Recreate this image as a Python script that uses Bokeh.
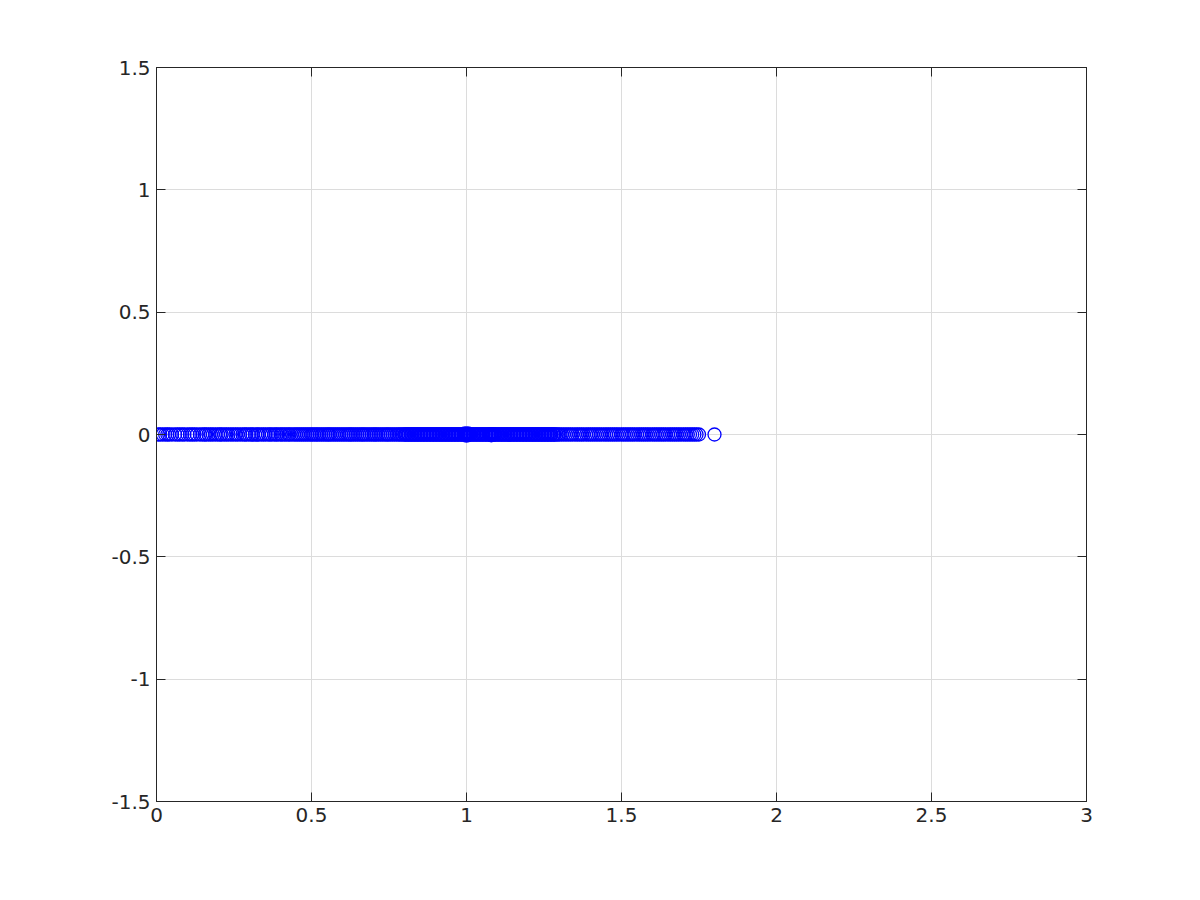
from bokeh.plotting import figure
from bokeh.models import LinearAxis, FixedTicker, Range1d
from bokeh.embed import file_html
from bokeh.resources import INLINE

x_left = [
    0.005, 0.012, 0.02, 0.028, 0.035, 0.041, 0.05, 0.06, 0.068, 0.075, 0.083,
    0.09, 0.1, 0.108, 0.115, 0.122, 0.13, 0.14, 0.148, 0.155, 0.16, 0.168,
    0.175, 0.182, 0.19, 0.198, 0.205, 0.21, 0.218, 0.225, 0.232, 0.24, 0.247,
    0.255, 0.262, 0.27, 0.278, 0.285, 0.29, 0.298, 0.305, 0.31, 0.318, 0.325,
    0.33, 0.338, 0.345, 0.352, 0.36, 0.366, 0.372, 0.38, 0.386, 0.392, 0.4,
    0.405, 0.412, 0.418, 0.425, 0.43, 0.437, 0.444, 0.45, 0.456, 0.462, 0.468,
    0.474, 0.48, 0.486, 0.492, 0.498, 0.503, 0.509, 0.515, 0.52, 0.526, 0.532,
    0.538, 0.544, 0.55, 0.555, 0.56, 0.566, 0.572, 0.578, 0.584, 0.59, 0.596,
    0.602, 0.608, 0.614, 0.62, 0.625, 0.63, 0.636, 0.642, 0.648, 0.654, 0.66,
    0.665, 0.67, 0.676, 0.682, 0.688, 0.694, 0.7, 0.705, 0.71, 0.716, 0.722,
    0.728, 0.734, 0.74, 0.745, 0.75, 0.756, 0.762, 0.768, 0.774, 0.78, 0.785,
    0.79, 0.795,
]
x_dense = [
    0.80, 0.805, 0.81, 0.815, 0.82, 0.825, 0.83, 0.835, 0.84, 0.845, 0.85,
    0.855, 0.86, 0.865, 0.87, 0.875, 0.88, 0.885, 0.89, 0.895, 0.90, 0.905,
    0.91, 0.915, 0.92, 0.925, 0.93, 0.935, 0.94, 0.945, 0.95, 0.955, 0.96,
    0.965, 0.97, 0.975, 0.98, 0.985, 0.99, 0.995, 1.00, 1.00, 1.00, 1.005,
    1.01, 1.015, 1.02, 1.025, 1.03, 1.035, 1.04, 1.045, 1.05, 1.055, 1.06,
    1.065, 1.07, 1.075, 1.08, 1.08, 1.085, 1.09, 1.095, 1.10, 1.105, 1.11,
    1.115, 1.12, 1.125, 1.13, 1.135, 1.14, 1.145, 1.15, 1.155, 1.16, 1.165,
    1.17, 1.175, 1.18, 1.185, 1.19, 1.195, 1.20, 1.205, 1.21, 1.215, 1.22,
    1.225, 1.23, 1.235, 1.24, 1.245, 1.25, 1.255, 1.26, 1.265, 1.27, 1.275,
    1.28, 1.285, 1.29, 1.295,
]
x_dense_b = [
    0.8025, 0.8125, 0.8225, 0.8325, 0.8425, 0.8525, 0.8625, 0.8725, 0.8825,
    0.8925, 0.9025, 0.9125, 0.9225, 0.9325, 0.9425, 0.9525, 0.9625, 0.9725,
    0.9825, 0.9925, 0.9975, 1.0025, 1.0075, 1.0125, 1.0225, 1.0325, 1.0425,
    1.0525, 1.0625, 1.0725, 1.0775, 1.0825, 1.0875, 1.0925, 1.1025, 1.1125,
    1.1225, 1.1325, 1.1425, 1.1525, 1.1625, 1.1725, 1.1825, 1.1925, 1.2025,
    1.2125, 1.2225, 1.2325, 1.2425, 1.2525, 1.2625, 1.2725, 1.2825,
]
x_right = [
    1.30, 1.307, 1.314, 1.321, 1.328, 1.335, 1.342, 1.35, 1.357, 1.364, 1.371,
    1.378, 1.386, 1.393, 1.40, 1.407, 1.414, 1.421, 1.428, 1.435, 1.443, 1.45,
    1.457, 1.464, 1.471, 1.478, 1.485, 1.492, 1.50, 1.507, 1.514, 1.521,
    1.528, 1.535, 1.542, 1.55, 1.557, 1.564, 1.571, 1.578, 1.585, 1.592, 1.60,
    1.607, 1.614, 1.621, 1.628, 1.635, 1.642, 1.65, 1.657, 1.664, 1.671,
    1.678, 1.685, 1.692, 1.70, 1.707, 1.714, 1.721, 1.728, 1.735, 1.742,
    1.75, 1.80,
]
# points in the bulge near 1 sit a hair off the axis
x_bulge = [0.995, 1.0, 1.005, 1.08]
y_bulge = [0.005, -0.005, 0.004, -0.003]

x_values = x_left + x_dense + x_dense_b + x_right + x_bulge
y_values = [0.0] * (len(x_left) + len(x_dense) + len(x_dense_b) + len(x_right)) + y_bulge

x_ticks = [0, 0.5, 1, 1.5, 2, 2.5, 3]
y_ticks = [-1.5, -1, -0.5, 0, 0.5, 1, 1.5]
x_labels = {0: "0", 0.5: "0.5", 1: "1", 1.5: "1.5", 2: "2", 2.5: "2.5", 3: "3"}
y_labels = {-1.5: "-1.5", -1: "-1", -0.5: "-0.5", 0: "0", 0.5: "0.5", 1: "1", 1.5: "1.5"}

p = figure(width=1200, height=900, output_backend="svg", toolbar_location=None,
           x_range=Range1d(0, 3), y_range=Range1d(-1.5, 1.5),
           min_border_left=156, min_border_right=114, min_border_top=67,
           min_border_bottom=99, x_axis_location=None, y_axis_location=None)
p.outline_line_color = "#262626"
p.outline_line_width = 1
p.background_fill_color = "white"
p.border_fill_color = "white"

def style_axis(ax, ticks, labels, show_labels):
    ax.ticker = FixedTicker(ticks=ticks)
    ax.major_tick_in = 9
    ax.major_tick_out = 0
    ax.minor_tick_in = 0
    ax.minor_tick_out = 0
    ax.axis_line_color = "#262626"
    ax.major_tick_line_color = "#262626"
    ax.major_label_text_font = "DejaVu Sans"
    ax.major_label_text_font_size = "20px"
    ax.major_label_text_color = "#262626"
    ax.major_label_standoff = 6
    if show_labels:
        ax.major_label_overrides = labels
    else:
        ax.major_label_overrides = {t: "" for t in ticks}

bx = LinearAxis(); style_axis(bx, x_ticks, x_labels, True); p.add_layout(bx, "below")
lx = LinearAxis(); style_axis(lx, y_ticks, y_labels, True); p.add_layout(lx, "left")
tx = LinearAxis(); style_axis(tx, x_ticks, x_labels, False); p.add_layout(tx, "above")
rx = LinearAxis(); style_axis(rx, y_ticks, y_labels, False); p.add_layout(rx, "right")

p.xgrid.ticker = FixedTicker(ticks=x_ticks)
p.ygrid.ticker = FixedTicker(ticks=y_ticks)
p.xgrid.grid_line_color = "#dcdcdc"
p.ygrid.grid_line_color = "#dcdcdc"

p.scatter(x_values, y_values, marker="circle", size=13, fill_color=None,
          line_color="#0000ff", line_width=1.3)

open("out.html", "w").write(file_html(p, INLINE))
